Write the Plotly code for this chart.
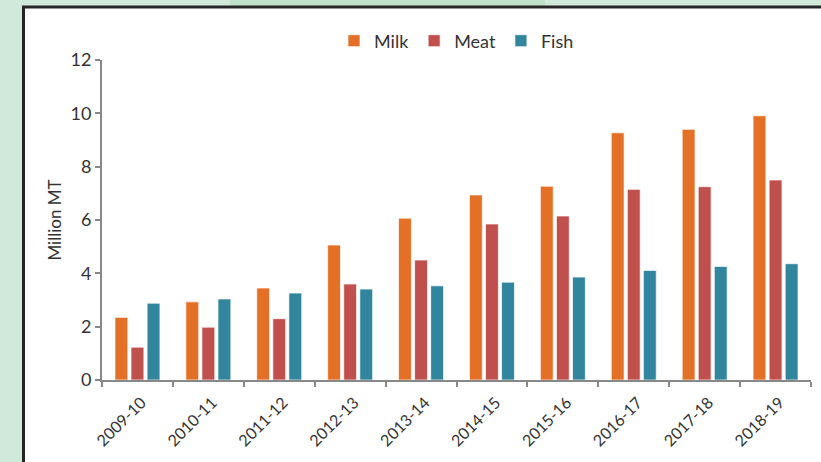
import plotly.graph_objects as go

years = ["2009-10", "2010-11", "2011-12", "2012-13", "2013-14",
         "2014-15", "2015-16", "2016-17", "2017-18", "2018-19"]
milk = [2.35, 2.93, 3.45, 5.06, 6.07, 6.94, 7.27, 9.27, 9.40, 9.91]
meat = [1.23, 1.98, 2.30, 3.60, 4.50, 5.85, 6.15, 7.15, 7.25, 7.50]
fish = [2.88, 3.04, 3.26, 3.41, 3.53, 3.67, 3.86, 4.11, 4.26, 4.36]

series = [("Milk", milk, "#e46f26"), ("Meat", meat, "#c0504d"), ("Fish", fish, "#31859c")]

W, H = 821, 462
fig = go.Figure()
for name, vals, col in series:
    fig.add_trace(go.Bar(x=years, y=vals, name=name,
                         marker=dict(color=col, line=dict(color="rgba(255,255,255,0.7)", width=1))))

font_fam = "Lato, 'Open Sans', sans-serif"

def px_x(p):
    return (p - 102) / 709
def px_y(p):
    return (380 - p) / 320

fig.update_layout(
    width=W, height=H,
    margin=dict(l=102, r=10, t=60, b=82, pad=0),
    paper_bgcolor="#d0e9da",
    plot_bgcolor="rgba(0,0,0,0)",
    barmode="group", bargap=0.32, bargroupgap=0.2,
    font=dict(family=font_fam, color="#333333"),
    legend=dict(orientation="h", x=0.5, xanchor="center", y=px_y(41), yanchor="middle",
                font=dict(size=18, color="#333333"), itemwidth=30, bgcolor="rgba(0,0,0,0)"),
    showlegend=True,
    shapes=[
        dict(type="rect", xref="paper", yref="paper", layer="below",
             x0=px_x(230), x1=px_x(545), y0=px_y(0), y1=px_y(6),
             fillcolor="#bfe1ca", line=dict(width=0)),
        dict(type="rect", xref="paper", yref="paper", layer="below",
             x0=px_x(23.5), x1=px_x(830), y0=px_y(470), y1=px_y(7),
             fillcolor="white", line=dict(color="#262626", width=3)),
    ],
)

fig.update_xaxes(
    type="category", tickson="boundaries", ticks="outside", ticklen=5,
    tickcolor="#888888", tickwidth=2, showline=True, linecolor="#888888", linewidth=2,
    showgrid=False, tickangle=-45, tickfont=dict(size=16, color="#333333"),
    ticklabelstandoff=5, ticklabelshift=4,
)
fig.update_yaxes(
    range=[0, 12], dtick=2, ticks="outside", ticklen=5, tickcolor="#888888", tickwidth=2,
    showline=True, linecolor="#888888", linewidth=2, showgrid=False, zeroline=False,
    tickfont=dict(size=18, color="#333333"),
    title=dict(text="Million MT", font=dict(size=17, color="#333333"), standoff=5),
)

fig.write_html("out.html", config={"displayModeBar": False},
               post_script="document.body.style.margin='0';document.body.style.overflow='hidden';")
